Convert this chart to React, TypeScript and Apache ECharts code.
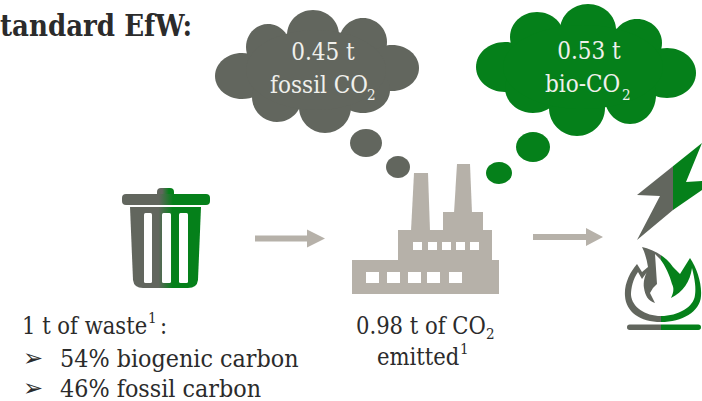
import React, { useEffect, useRef } from "react";
import * as echarts from "echarts";

const GREY = "#62665E";
const GREEN = "#05801A";
const TAUPE = "#B6B1A9";
const INK = "#2b2b2b";
const CLOUD_TEXT = "#f0f0ec";
const FONT = "'DejaVu Serif Condensed', 'DejaVu Serif', serif";

const title = "tandard EfW:";
const fossilLines = ["0.45 t", "fossil CO"];
const bioLines = ["0.53 t", "bio-CO"];
const wasteLines = ["1 t of waste", "54% biogenic carbon", "46% fossil carbon"];
const emittedLines = ["0.98 t of CO", "emitted"];

const flameOuter =
  "M642 247 C652 249 666 256 673 267 L680 274 L690 258 C697 268 702 284 701 296 C700 312 682 322 661 322 C640 322 626 312 625 296 C624 284 630 272 637 264 L642 272 L648 267 C647 260 645 253 642 247 Z";
const flameHole =
  "M638 272 C633 279 631 288 631 295 C632 307 645 316 661 316 C678 316 694 307 695 295 C696 288 695 280 692 268 C690 282 683 292 671 298 C674 292 674 288 672 284 C670 276 665 265 660 259 L655 254 L657 284 L653 288 L650 293 L655 303 C648 301 645 295 644 288 C643 282 645 275 647 272 L642 279 Z";
const trashBody =
  "M130 207 L201 207 L198 280 Q197 288 188 288 L143 288 Q134 288 133 280 Z";

echarts.graphic.registerShape("flameOuter", echarts.graphic.extendPath(flameOuter, {}) as any);
echarts.graphic.registerShape("flameHole", echarts.graphic.extendPath(flameHole, {}) as any);
echarts.graphic.registerShape("trashBody", echarts.graphic.extendPath(trashBody, {}) as any);

const split = (a: number, b = a) =>
  new echarts.graphic.LinearGradient(0, 0, 1, 0, [
    { offset: 0, color: GREY },
    { offset: a, color: GREY },
    { offset: b, color: GREEN },
    { offset: 1, color: GREEN },
  ]);

const ell = (cx: number, cy: number, rx: number, ry: number, fill: string) => ({
  type: "ellipse",
  shape: { cx, cy, rx, ry },
  style: { fill },
  silent: true,
});
const rect = (x: number, y: number, width: number, height: number, fill: any, r = 0, z = 1) => ({
  type: "rect",
  z,
  shape: { x, y, width, height, r },
  style: { fill },
  silent: true,
});
const poly = (points: number[][], fill: any) => ({
  type: "polygon",
  shape: { points },
  style: { fill },
  silent: true,
});
const txt = (
  x: number,
  y: number,
  text: string,
  size: number,
  fill: string,
  align = "left",
  weight = "normal",
  family = FONT
) => ({
  type: "text",
  z: 5,
  x,
  y,
  style: {
    text,
    fill,
    align,
    verticalAlign: "middle",
    font: `${weight} ${size}px ${family}`,
  },
  silent: true,
});
const arrow = (x0: number, x1: number, x2: number, y: number) =>
  poly(
    [
      [x0, y - 3],
      [x1, y - 3],
      [x1, y - 9],
      [x2, y],
      [x1, y + 9],
      [x1, y + 3],
      [x0, y + 3],
    ],
    TAUPE
  );

const greyCloud = [
  [242, 76, 27, 23], [268, 47, 22, 23], [313, 35, 26, 25], [363, 42, 24, 24],
  [392, 68, 27, 23], [363, 90, 27, 23], [325, 107, 26, 26], [277, 97, 25, 25],
  [316, 70, 70, 40], [366, 143, 16, 14], [398, 167, 12, 11],
];
const greenCloud = [
  [505, 67, 29, 25], [537, 37, 27, 25], [588, 30, 28, 26], [637, 43, 25, 24],
  [667, 73, 29, 25], [630, 95, 26, 29], [577, 108, 28, 28], [533, 88, 28, 25],
  [583, 67, 80, 42], [533, 147, 17, 15], [499, 173, 13, 11],
];
const lowerWindows = [366, 387, 408, 427, 449];
const upperWindows = [413, 428, 442, 456, 470];

export default function App() {
  const ref = useRef<HTMLDivElement>(null);
  useEffect(() => {
    const chart = echarts.init(ref.current!, null, { renderer: "svg" });
    const elements: any[] = [
      ...greyCloud.map((c) => ell(c[0], c[1], c[2], c[3], GREY)),
      ...greenCloud.map((c) => ell(c[0], c[1], c[2], c[3], GREEN)),

      // bin
      rect(157, 188, 17, 10, split(0.3, 0.7), 4),
      rect(122, 194, 88, 11, split(0.42, 0.58), 4),
      { type: "trashBody", x: 0, y: 0, style: { fill: split(0.4, 0.6) }, silent: true },
      rect(144, 213, 8, 70, "#fff", 1.5, 2),
      rect(162, 213, 9, 70, "#fff", 1.5, 2),
      rect(179, 213, 9, 70, "#fff", 1.5, 2),

      arrow(255, 307, 325, 238.5),
      arrow(533, 586, 603, 237),

      // factory
      rect(352, 260, 147, 34, TAUPE),
      rect(398, 230, 94, 31, TAUPE),
      rect(443, 212, 40, 19, TAUPE),
      poly([[414, 173], [428, 173], [430, 231], [411, 231]], TAUPE),
      poly([[457, 164], [470, 164], [472, 213], [454, 213]], TAUPE),
      ...upperWindows.map((x) => rect(x, 242, 9, 8, "#fff", 0, 2)),
      ...lowerWindows.map((x) => rect(x, 272, 13, 11, "#fff", 0, 2)),

      // bolt
      poly(
        [[637, 195], [702, 143], [702, 143], [686, 182], [702, 181], [702, 190], [673, 210], [637, 240], [660, 196]],
        split((673 - 637) / (702 - 637))
      ),

      // flame
      { type: "flameOuter", x: 0, y: 0, style: { fill: split((661 - 625) / (701.2 - 625)) }, silent: true },
      { type: "flameHole", x: 0, y: 0, z: 2, style: { fill: "#fff" }, silent: true },
      rect(627, 324.5, 74, 5.5, split(0.46), 2.7),

      // texts
      txt(0, 26, title, 29, INK, "left", "bold"),

      txt(323, 52, fossilLines[0], 24, CLOUD_TEXT, "center"),
      txt(270, 85, fossilLines[1], 24, CLOUD_TEXT),
      txt(367, 95, "2", 15, CLOUD_TEXT),

      txt(589, 51, bioLines[0], 24, CLOUD_TEXT, "center"),
      txt(545, 84, bioLines[1], 24, CLOUD_TEXT),
      txt(622, 95, "2", 15, CLOUD_TEXT),

      txt(22, 326, wasteLines[0], 23.5, INK),
      txt(148, 318, "1", 15, INK),
      txt(160, 326, ":", 23.5, INK),
      txt(23, 358, "\u27A2", 24, INK, "left", "normal", "'DejaVu Sans'"),
      txt(60, 358, wasteLines[1], 24.8, INK),
      txt(23, 387.5, "\u27A2", 24, INK, "left", "normal", "'DejaVu Sans'"),
      txt(60, 388, wasteLines[2], 24.8, INK),

      txt(356, 326, emittedLines[0], 23.5, INK),
      txt(486, 334, "2", 15, INK),
      txt(377, 357, emittedLines[1], 23.5, INK),
      txt(460, 349, "1", 15, INK),
    ];
    chart.setOption({ animation: false, graphic: { elements } });
    return () => chart.dispose();
  }, []);
  return (
    <div
      ref={ref}
      style={{ position: "absolute", left: 0, top: 0, width: 702, height: 401, background: "#fff" }}
    />
  );
}
